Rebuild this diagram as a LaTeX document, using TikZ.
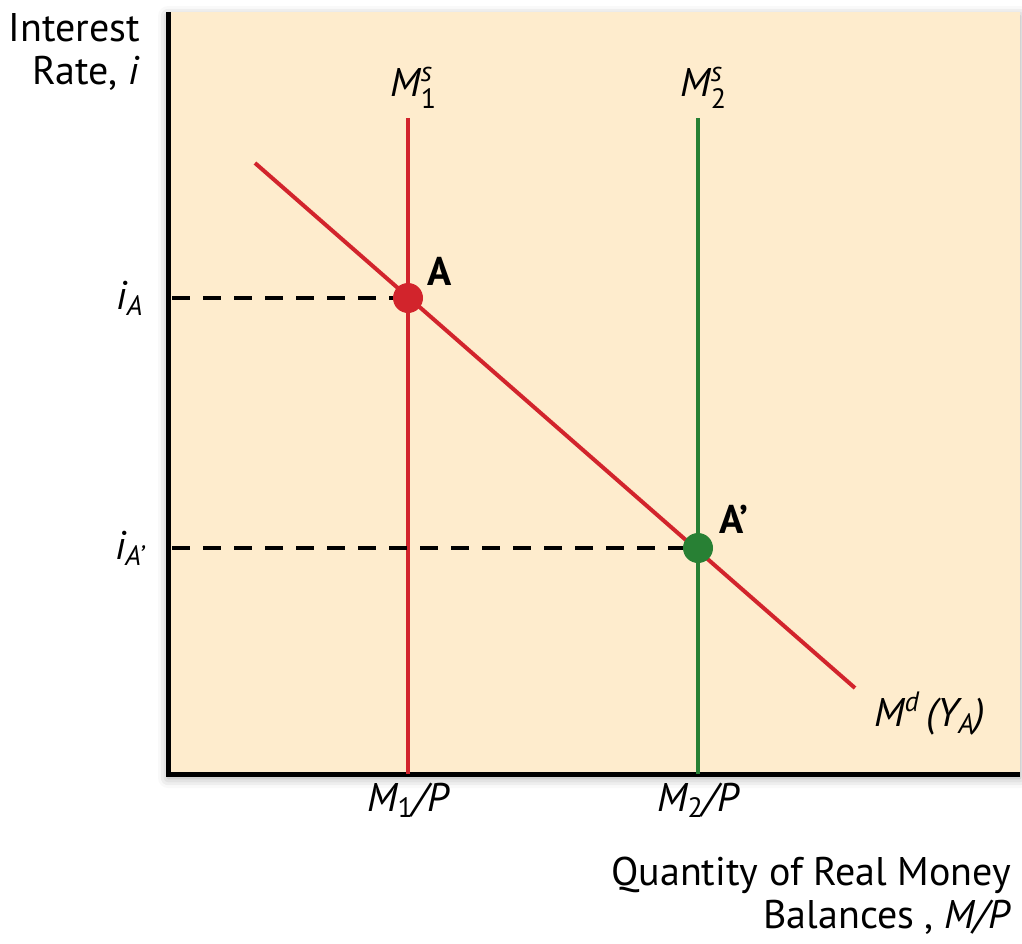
\documentclass[tikz,border=0pt]{standalone}
\usepackage{amsmath}
\usepackage{fontspec}
\setmainfont{PT Sans}
\usetikzlibrary{positioning,shadows.blur}
\definecolor{panel}{RGB}{254,236,205}
\definecolor{supplyred}{RGB}{210,36,44}
\definecolor{supplygreen}{RGB}{40,128,52}
\newcommand\supplylab[1]{\textit{M}$^{\text{\itshape s}}_{\text{\upshape #1}}$}

\begin{document}
\begin{tikzpicture}[x=0.5pt,y=-0.5pt,font=\fontsize{20}{21.5}\selectfont,
 curve/.style={line width=2pt},
 guide/.style={line width=2pt,dash pattern=on 9pt off 6.5pt},
 eqpoint/.style={circle,inner sep=0pt,minimum size=15pt},
 lab/.style={font=\fontsize{20}{22}\selectfont\itshape}]
\useasboundingbox (0,0) rectangle (1022,943);
% panel and axes
\fill[panel,blur shadow={shadow xshift=0pt,shadow yshift=-2pt,shadow blur radius=5pt,shadow opacity=35}]
 (168,12) rectangle (1020,774);
\coordinate (ytop) at (168,12);
\coordinate (orig) at (168,774);
\coordinate (xend) at (1020,774);
\draw[line width=2.5pt,line join=miter] (ytop) -- (orig) -- (xend);
% supply and demand
\coordinate (s1top) at (408,118);
\coordinate (s1bot) at (408,774);
\coordinate (s2top) at (698,118);
\coordinate (s2bot) at (698,774);
\coordinate (dtop) at (255,163);
\coordinate (dbot) at (855,688);
\draw[curve,supplyred] (s1top) -- (s1bot);
\draw[curve,supplygreen] (s2top) -- (s2bot);
\draw[curve,supplyred] (dtop) -- (dbot);
% equilibria
\node[eqpoint,fill=supplyred] (A) at (408,298) {};
\node[eqpoint,fill=supplygreen] (A2) at (698,548) {};
\coordinate (iA) at (172,298);
\coordinate (iA2) at (172,548);
\draw[guide] (iA) -- (A);
\draw[guide] (iA2) -- (A2);
% labels
\node[font=\fontsize{20}{22}\selectfont\bfseries] (labA) at (440,271) {A};
\node[font=\fontsize{20}{22}\selectfont\bfseries] (labA2) at (734,519) {A’};
\node[lab] (rateA) at (130,298) {i\textsubscript{A}};
\node[lab] (rateA2) at (130,548) {i\textsubscript{A’}};
\node[lab] (ms1) at (414,88) {\supplylab{1}};
\node[lab] (ms2) at (704,88) {\supplylab{2}};
\node[lab] (q1) at (408,800) {M\textsubscript{\upshape 1}/P};
\node[lab] (q2) at (698,800) {M\textsubscript{\upshape 2}/P};
\node[lab] (md) at (930,714) {M\textsuperscript{d}\,(Y\textsubscript{A})};
\node[align=right,anchor=north east] (yaxis) at (147,6) {Interest\\Rate, \textit{i}};
\node[align=right,anchor=north east] (xaxis) at (1018,850) {Quantity of Real Money\\Balances , \textit{M/P}};
\end{tikzpicture}
\end{document}
